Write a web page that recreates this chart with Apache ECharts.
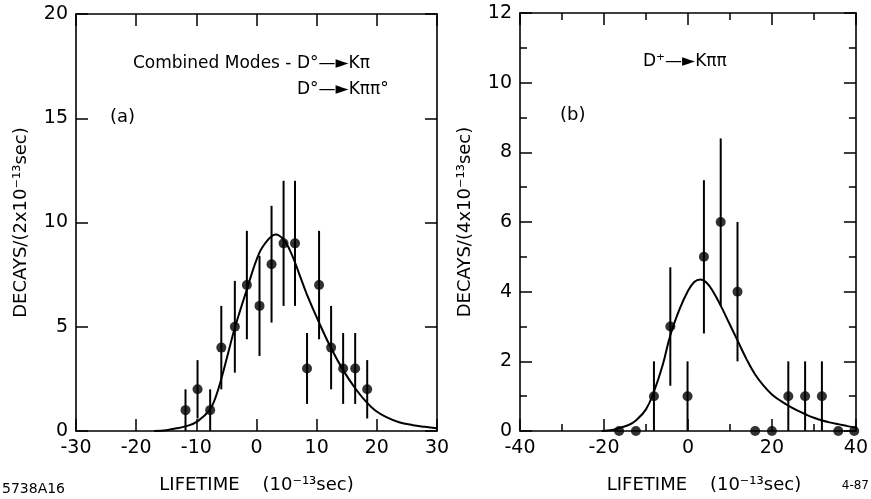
<!DOCTYPE html>
<html>
<head>
<meta charset="utf-8">
<script src="https://cdn.jsdelivr.net/npm/echarts@6/dist/echarts.min.js"></script>
<style>
html,body{margin:0;padding:0;background:#fff;}
#chart{width:871px;height:499px;}
</style>
</head>
<body>
<div id="chart"></div>
<script>
// Panel (a): combined D0 modes, 2e-13 s bins
var aX = [-11.8, -9.8, -7.7, -5.85, -3.6, -1.6, 0.5, 2.5, 4.5, 6.4, 8.4, 10.4, 12.4, 14.4, 16.4, 18.4];
var aY = [1, 2, 1, 4, 5, 7, 6, 8, 9, 9, 3, 7, 4, 3, 3, 2];
var aErr = [1.0, 1.4, 1.0, 2.0, 2.2, 2.6, 2.4, 2.8, 3.0, 3.0, 1.7, 2.6, 2.0, 1.7, 1.7, 1.4];
var aCurveX = [-17, -15, -13.5, -11.8, -9.8, -7.7, -6.7, -5.8, -4.7, -3.65, -1.7, 0.4, 2.0, 3.2, 4.4, 5.5, 6.5, 7.4, 8.35, 10.4, 12.3, 14.4, 16.4, 18.2, 19.8, 21.5, 23.7, 26, 28, 30];
var aCurveY = [0, 0.04, 0.12, 0.22, 0.46, 1.05, 1.7, 2.55, 3.75, 4.9, 6.7, 8.5, 9.2, 9.43, 9.22, 8.7, 8.0, 7.3, 6.57, 5.2, 4.03, 2.92, 2.05, 1.41, 0.97, 0.68, 0.42, 0.28, 0.2, 0.13];

// Panel (b): D+ -> K pi pi, 4e-13 s bins
var bX = [-16.4, -12.4, -8.1, -4.2, -0.1, 3.8, 7.8, 11.8, 16.0, 20.0, 23.9, 27.9, 31.9, 35.8, 39.6];
var bY = [0, 0, 1, 3, 1, 5, 6, 4, 0, 0, 1, 1, 1, 0, 0];
var bErr = [0, 0, 1.0, 1.7, 1.0, 2.2, 2.4, 2.0, 0, 0, 1.0, 1.0, 1.0, 0, 0];
var bCurveX = [-20.5, -18, -16.5, -14, -12.4, -10, -8.1, -6, -4.2, -2, -0.1, 1.5, 3, 4.5, 6, 7.8, 9.8, 11.8, 14, 16, 18, 20, 22, 24, 26, 28, 30, 32, 34, 36, 38, 40];
var bCurveY = [0, 0.03, 0.08, 0.18, 0.3, 0.62, 1.13, 1.9, 2.75, 3.5, 4.0, 4.28, 4.35, 4.25, 4.0, 3.6, 3.1, 2.6, 2.05, 1.62, 1.3, 1.05, 0.87, 0.72, 0.59, 0.48, 0.38, 0.3, 0.24, 0.19, 0.14, 0.1];

var FONT = 'DejaVu Sans';
var INK = '#000';

function pairs(xs, ys) { return xs.map(function (x, i) { return [x, ys[i]]; }); }
function errData(xs, ys, es) {
  var out = [];
  xs.forEach(function (x, i) { if (es[i] > 0) out.push([x, Math.max(0, ys[i] - es[i]), ys[i] + es[i]]); });
  return out;
}
function errRender(params, api) {
  var p1 = api.coord([api.value(0), api.value(1)]);
  var p2 = api.coord([api.value(0), api.value(2)]);
  return { type: 'line', shape: { x1: p1[0], y1: p1[1], x2: p2[0], y2: p2[1] },
           style: { stroke: INK, lineWidth: 2 } };
}

var axLine = { show: true, onZero: false, lineStyle: { color: INK, width: 1.6 } };
var labelStyle = { color: INK, fontFamily: FONT, fontSize: 19 };

function ax(grid, pos, min, max, interval, labels, minor, extra) {
  var o = {
    type: 'value', gridIndex: grid, position: pos, min: min, max: max, interval: interval,
    axisLine: axLine, splitLine: { show: false },
    axisTick: { show: true, inside: true, length: 12, lineStyle: { color: INK, width: 1.5 } },
    axisLabel: labels ? Object.assign({ margin: 8 }, labelStyle) : { show: false }
  };
  if (minor) o.minorTick = { show: true, splitNumber: 2, length: 7, lineStyle: { color: INK, width: 1.5 } };
  return Object.assign(o, extra || {});
}

var option = {
  backgroundColor: '#fff',
  animation: false,
  grid: [
    { left: 76, top: 14, width: 361, height: 419 },
    { left: 520, top: 13, width: 340, height: 420 }
  ],
  xAxis: [
    ax(0, 'bottom', -30, 30, 10, true, false, {
      name: 'LIFETIME    (10\u207B\u00B9\u00B3sec)', nameLocation: 'middle', nameGap: 45,
      nameTextStyle: { color: INK, fontFamily: FONT, fontSize: 18 }
    }),
    ax(0, 'top', -30, 30, 10, false, false),
    ax(1, 'bottom', -40, 40, 20, true, true, {
      name: 'LIFETIME    (10\u207B\u00B9\u00B3sec)', nameLocation: 'middle', nameGap: 45,
      nameTextStyle: { color: INK, fontFamily: FONT, fontSize: 18, padding: [0, 0, 0, 32] }
    }),
    ax(1, 'top', -40, 40, 20, false, true)
  ],
  yAxis: [
    ax(0, 'left', 0, 20, 5, true, false, {
      name: 'DECAYS/(2x10\u207B\u00B9\u00B3sec)', nameLocation: 'middle', nameGap: 46, nameRotate: 90,
      nameTextStyle: { color: INK, fontFamily: FONT, fontSize: 18 }
    }),
    ax(0, 'right', 0, 20, 5, false, false),
    ax(1, 'left', 0, 12, 2, true, true, {
      name: 'DECAYS/(4x10\u207B\u00B9\u00B3sec)', nameLocation: 'middle', nameGap: 46, nameRotate: 90,
      nameTextStyle: { color: INK, fontFamily: FONT, fontSize: 18 }
    }),
    ax(1, 'right', 0, 12, 2, false, true)
  ],
  graphic: [
    { type: 'text', left: 133, top: 55, style: { text: 'Combined Modes - D\u00B0\u2014\u25BAK\u03C0', fill: INK, font: '17px "DejaVu Sans"' } },
    { type: 'text', left: 297, top: 81, style: { text: 'D\u00B0\u2014\u25BAK\u03C0\u03C0\u00B0', fill: INK, font: '17px "DejaVu Sans"' } },
    { type: 'text', left: 110, top: 108, style: { text: '(a)', fill: INK, font: '18px "DejaVu Sans"' } },
    { type: 'text', left: 643, top: 53, style: { text: 'D\u207A\u2014\u25BAK\u03C0\u03C0', fill: INK, font: '17px "DejaVu Sans"' } },
    { type: 'text', left: 560, top: 106, style: { text: '(b)', fill: INK, font: '18px "DejaVu Sans"' } },
    { type: 'text', left: 2, top: 482, style: { text: '5738A16', fill: INK, font: '14px "DejaVu Sans"' } },
    { type: 'text', right: 2, top: 480, style: { text: '4-87', fill: INK, font: '12px "DejaVu Sans"' } }
  ],
  series: [
    { type: 'line', xAxisIndex: 0, yAxisIndex: 0, data: pairs(aCurveX, aCurveY), smooth: 0.4,
      showSymbol: false, lineStyle: { color: INK, width: 2 }, z: 2 },
    { type: 'custom', xAxisIndex: 0, yAxisIndex: 0, data: errData(aX, aY, aErr), renderItem: errRender,
      encode: { x: 0, y: [1, 2] }, z: 3 },
    { type: 'scatter', xAxisIndex: 0, yAxisIndex: 0, data: pairs(aX, aY), symbol: 'circle', symbolSize: 10,
      itemStyle: { color: INK }, clip: false, z: 4 },
    { type: 'line', xAxisIndex: 2, yAxisIndex: 2, data: pairs(bCurveX, bCurveY), smooth: 0.4,
      showSymbol: false, lineStyle: { color: INK, width: 2 }, z: 2 },
    { type: 'custom', xAxisIndex: 2, yAxisIndex: 2, data: errData(bX, bY, bErr), renderItem: errRender,
      encode: { x: 0, y: [1, 2] }, z: 3 },
    { type: 'scatter', xAxisIndex: 2, yAxisIndex: 2, data: pairs(bX, bY), symbol: 'circle', symbolSize: 10,
      itemStyle: { color: INK }, clip: false, z: 4 }
  ]
};
var chart = echarts.init(document.getElementById('chart'), null, { renderer: 'canvas' });
chart.setOption(option);
</script>
</body>
</html>
